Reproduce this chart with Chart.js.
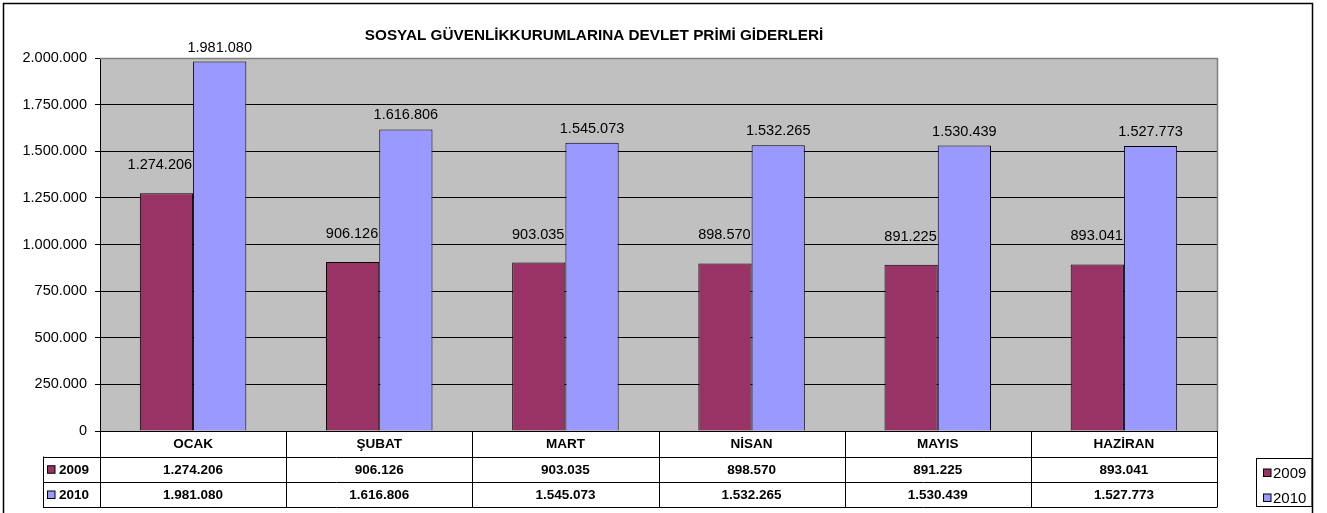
<!DOCTYPE html>
<html>
<head>
<meta charset="utf-8">
<script src="https://cdn.jsdelivr.net/npm/chart.js@4/dist/chart.umd.min.js"></script>
<style>
  html, body { margin: 0; padding: 0; background: #fff; }
  #wrap { width: 1327px; height: 513px; position: relative; }
</style>
</head>
<body>
<div id="wrap"><canvas id="c" width="1327" height="513"></canvas></div>
<script>
const chartTitle = 'SOSYAL GÜVENLİKKURUMLARINA DEVLET PRİMİ GİDERLERİ';
const categories = ['OCAK', 'ŞUBAT', 'MART', 'NİSAN', 'MAYIS', 'HAZİRAN'];
const seriesNames = ['2009', '2010'];
const values2009 = [1274206, 906126, 903035, 898570, 891225, 893041];
const values2010 = [1981080, 1616806, 1545073, 1532265, 1530439, 1527773];
const yMin = 0, yMax = 2000000, yStep = 250000;

const colors = ['#993366', '#9999FF'];
const FONT = '"Liberation Sans", Arial, sans-serif';

function fmt(v) {
  return String(v).replace(/\B(?=(\d{3})+(?!\d))/g, '.');
}

const decorPlugin = {
  id: 'decor',
  beforeDraw(chart) {
    const ctx = chart.ctx, a = chart.chartArea;
    ctx.save();
    ctx.fillStyle = '#fff';
    ctx.fillRect(0, 0, chart.width, chart.height);
    // outer border
    ctx.strokeStyle = '#000';
    ctx.lineWidth = 1.5;
    ctx.strokeRect(3.5, 3.5, 1309, 530);
    // plot background
    ctx.fillStyle = '#C0C0C0';
    ctx.fillRect(a.left, a.top, a.right - a.left, a.bottom - a.top);
    ctx.restore();
  },
  afterDatasetsDraw(chart) {
    const ctx = chart.ctx, a = chart.chartArea;
    ctx.save();
    // plot border (top/right) gray
    ctx.strokeStyle = '#808080';
    ctx.lineWidth = 1.5;
    ctx.beginPath();
    ctx.moveTo(a.left, a.top + 0.5);
    ctx.lineTo(a.right + 0.5, a.top + 0.5);
    ctx.lineTo(a.right + 0.5, a.bottom);
    ctx.stroke();

    // data labels
    ctx.font = '14.5px ' + FONT;
    ctx.fillStyle = '#000';
    ctx.textBaseline = 'alphabetic';
    chart.data.datasets.forEach((ds, di) => {
      const meta = chart.getDatasetMeta(di);
      meta.data.forEach((bar, i) => {
        const txt = fmt(ds.data[i]);
        if (di === 0) {
          ctx.textAlign = 'right';
          ctx.fillText(txt, bar.x + bar.width / 2 - 1, bar.y - 24);
        } else {
          ctx.textAlign = 'center';
          ctx.fillText(txt, bar.x, bar.y - 10);
        }
      });
    });

    // title
    ctx.font = 'bold 15.3px ' + FONT;
    ctx.textAlign = 'center';
    ctx.fillText(chartTitle, 594, 40);

    // data table
    const left = a.left, right = a.right;
    const colW = (right - left) / categories.length;
    const rows = [a.bottom, 456.5, 482, 507];
    const keyLeft = 43;
    ctx.strokeStyle = '#000';
    ctx.lineWidth = 1;
    ctx.beginPath();
    ctx.moveTo(left, Math.round(rows[0]) + 0.5); ctx.lineTo(right, Math.round(rows[0]) + 0.5);
    for (let r = 1; r < rows.length; r++) {
      ctx.moveTo(keyLeft, Math.round(rows[r]) + 0.5);
      ctx.lineTo(right, Math.round(rows[r]) + 0.5);
    }
    for (let k = 0; k <= categories.length; k++) {
      const x = Math.round(left + k * colW) + 0.5;
      ctx.moveTo(x, rows[0]); ctx.lineTo(x, rows[3] + 0.5);
    }
    ctx.moveTo(keyLeft + 0.5, rows[1]); ctx.lineTo(keyLeft + 0.5, rows[3] + 0.5);
    ctx.stroke();

    ctx.font = 'bold 13.5px ' + FONT;
    ctx.textBaseline = 'middle';
    ctx.textAlign = 'center';
    ctx.fillStyle = '#000';
    categories.forEach((c, k) => {
      const cx = left + (k + 0.5) * colW;
      ctx.fillText(c, cx, (rows[0] + rows[1]) / 2 + 1);
      ctx.fillText(fmt(values2009[k]), cx, (rows[1] + rows[2]) / 2 + 1);
      ctx.fillText(fmt(values2010[k]), cx, (rows[2] + rows[3]) / 2 + 1);
    });
    seriesNames.forEach((s, si) => {
      const cy = (rows[si + 1] + rows[si + 2]) / 2;
      ctx.fillStyle = colors[si];
      ctx.fillRect(47.5, cy - 3.5, 7.5, 7.5);
      ctx.strokeStyle = '#000';
      ctx.strokeRect(47.5, cy - 3.5, 7.5, 7.5);
      ctx.fillStyle = '#000';
      ctx.textAlign = 'left';
      ctx.fillText(s, 59, cy + 1);
    });

    // legend box
    ctx.strokeStyle = '#000';
    ctx.lineWidth = 1;
    ctx.strokeRect(1256.5, 458.5, 55.5, 48);
    ctx.font = '15px ' + FONT;
    ctx.textBaseline = 'middle';
    ctx.textAlign = 'left';
    seriesNames.forEach((s, si) => {
      const cy = si === 0 ? 472.5 : 497.5;
      ctx.fillStyle = colors[si];
      ctx.fillRect(1263.5, cy - 3.5, 7.5, 7.5);
      ctx.strokeStyle = '#000';
      ctx.strokeRect(1263.5, cy - 3.5, 7.5, 7.5);
      ctx.fillStyle = '#000';
      ctx.fillText(s, 1273, cy + 1);
    });
    ctx.restore();
  }
};

new Chart(document.getElementById('c'), {
  type: 'bar',
  data: {
    labels: categories,
    datasets: [
      { label: seriesNames[0], data: values2009, backgroundColor: colors[0], borderColor: '#000', borderWidth: 1 },
      { label: seriesNames[1], data: values2010, backgroundColor: colors[1], borderColor: '#000', borderWidth: 1 }
    ]
  },
  options: {
    responsive: false,
    animation: false,
    devicePixelRatio: 1,
    layout: { padding: { left: 4, top: 58, right: 110, bottom: 82 } },
    datasets: { bar: { categoryPercentage: 0.572, barPercentage: 1.0 } },
    plugins: { legend: { display: false }, title: { display: false }, tooltip: { enabled: false } },
    scales: {
      x: { display: false },
      y: {
        min: yMin, max: yMax,
        afterFit(scale) { scale.width = 96; },
        ticks: {
          stepSize: yStep,
          color: '#000',
          padding: 8,
          font: { family: FONT, size: 14.5 },
          callback: (v) => fmt(v)
        },
        grid: {
          color: (ctx) => (ctx.tick && ctx.tick.value === yMax ? '#808080' : '#000'),
          lineWidth: 1,
          drawTicks: true,
          tickLength: 5,
          tickColor: '#000'
        },
        border: { display: true, color: '#000', width: 1 }
      }
    }
  },
  plugins: [decorPlugin]
});
</script>
</body>
</html>
